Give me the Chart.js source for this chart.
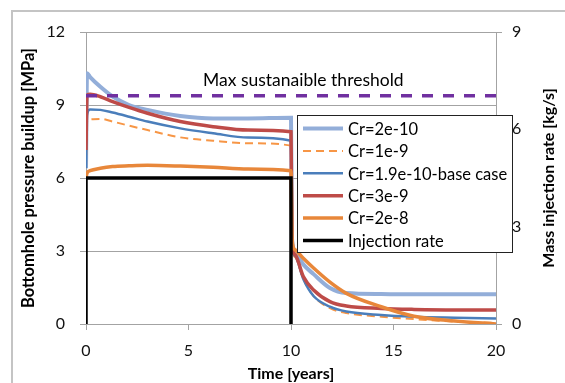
<!DOCTYPE html>
<html>
<head>
<meta charset="utf-8">
<script src="https://cdn.jsdelivr.net/npm/chart.js@4.4.1/dist/chart.umd.min.js"></script>
<style>
  html, body { margin: 0; padding: 0; background: #fff; }
  #wrap { width: 565px; height: 383px; }
</style>
</head>
<body>
<div id="wrap"><canvas id="pressureChart" width="565" height="383"></canvas></div>
<script>
// time axis shared by the pressure curves [years]
const timeYears = [0, 0.05, 0.2, 0.7, 1.3, 2.1, 3, 4.6, 6.2, 7.9, 10, 10.05, 10.2, 10.6, 11.1, 11.9, 12.7, 14.4, 16, 18, 20];

// bottomhole pressure buildup [MPa]
const cr2e10 =     [6.4, 10.3, 10.15, 9.75, 9.35, 9.0, 8.8, 8.55, 8.45, 8.45, 8.48, 3.5, 2.95, 2.45, 2.05, 1.48, 1.27, 1.23, 1.22, 1.22, 1.22];
const cr1e9 =      [6.4, 8.3, 8.41, 8.43, 8.32, 8.15, 7.97, 7.67, 7.53, 7.43, 7.33, 3.3, 2.75, 1.85, 1.15, 0.65, 0.45, 0.3, 0.2, 0.1, 0.05];
const cr19e10 =    [6.4, 8.6, 8.82, 8.8, 8.69, 8.52, 8.32, 8.04, 7.84, 7.66, 7.53, 3.3, 2.8, 1.85, 1.15, 0.71, 0.51, 0.37, 0.3, 0.26, 0.23];
const cr3e9 =      [7.15, 9.4, 9.44, 9.34, 9.14, 8.9, 8.66, 8.32, 8.11, 7.97, 7.9, 3.4, 2.85, 1.95, 1.4, 0.92, 0.74, 0.64, 0.6, 0.58, 0.58];
const cr2e8 =      [6.0, 6.2, 6.3, 6.4, 6.47, 6.5, 6.52, 6.49, 6.44, 6.37, 6.3, 3.5, 3.05, 2.7, 2.3, 1.72, 1.26, 0.71, 0.32, 0.12, 0.0];

// injection rate [kg/s] (right axis)
const injectionTime = [0, 0, 10, 10];
const injectionRate = [0, 4.5, 4.5, 0];

// max sustainable pressure [MPa]
const thresholdTime = [0, 20];
const thresholdValue = [9.38, 9.38];

const seriesLabels = ['Cr=2e-10', 'Cr=1e-9', 'Cr=1.9e-10-base case', 'Cr=3e-9', 'Cr=2e-8', 'Injection rate'];

const yTicks = [0, 3, 6, 9, 12];
const y2Ticks = [0, 3, 6, 9];
const xTicks = [0, 5, 10, 15, 20];

function pts(xs, ys) {
  return xs.map((x, i) => ({ x: x, y: ys[i] }));
}

const FONT = 'Lato, "Noto Sans", sans-serif';
const GRID = '#a3a3a3';

function curve(label, values, color, width, dash, order) {
  return {
    label: label,
    data: pts(timeYears, values),
    borderColor: color,
    backgroundColor: color,
    borderWidth: width,
    borderDash: dash || [],
    pointRadius: 0,
    cubicInterpolationMode: 'monotone',
    yAxisID: 'y',
    order: order
  };
}

const extras = {
  id: 'extras',
  afterDraw(chart) {
    const c = chart.ctx;
    const xs = chart.scales.x, ys = chart.scales.y;
    c.save();

    // outer frame
    c.strokeStyle = '#c4c4c4';
    c.lineWidth = 2;
    c.strokeRect(12, 11, 620, 420);

    // threshold label
    c.fillStyle = '#000';
    c.font = '17.5px ' + FONT;
    c.textAlign = 'center';
    c.textBaseline = 'middle';
    c.fillText('Max sustanaible threshold', xs.getPixelForValue(10.6), ys.getPixelForValue(10.0));

    // right axis title
    c.save();
    c.translate(549, (chart.chartArea.top + chart.chartArea.bottom) / 2);
    c.rotate(-Math.PI / 2);
    c.font = 'bold 16px ' + FONT;
    c.fillText('Mass injection rate [kg/s]', 0, 0);
    c.restore();

    // legend
    const bx = 297.5, by = 115.5, bw = 215, bh = 137;
    c.fillStyle = '#fff';
    c.fillRect(bx, by, bw, bh);
    c.strokeStyle = '#222';
    c.lineWidth = 1;
    c.strokeRect(bx, by, bw, bh);
    c.textAlign = 'left';
    c.font = '16.5px ' + FONT;
    const legendSets = chart.data.datasets.filter(d => d.label);
    legendSets.forEach((d, i) => {
      const yy = 128.5 + i * 22.4;
      c.strokeStyle = d.borderColor;
      c.lineWidth = d.borderWidth;
      c.setLineDash(d.borderDash || []);
      c.beginPath();
      c.moveTo(303, yy);
      c.lineTo(343, yy);
      c.stroke();
      c.setLineDash([]);
      c.fillStyle = '#000';
      c.fillText(d.label, 348, yy + 1);
    });
    c.restore();
  }
};

const ctx = document.getElementById('pressureChart').getContext('2d');
const pressureChart = new Chart(ctx, {
  type: 'line',
  data: {
    datasets: [
      curve(seriesLabels[0], cr2e10, '#93aed9', 4, null, 8),
      curve(seriesLabels[1], cr1e9, '#f79646', 2, [8, 5], 7),
      curve(seriesLabels[2], cr19e10, '#4a7ebb', 2.5, null, 6),
      curve(seriesLabels[3], cr3e9, '#be4b48', 3.5, null, 5),
      curve(seriesLabels[4], cr2e8, '#e8873a', 3.5, null, 4),
      {
        label: seriesLabels[5],
        data: pts(injectionTime, injectionRate),
        borderColor: '#000',
        backgroundColor: '#000',
        borderWidth: 3.5,
        pointRadius: 0,
        tension: 0,
        yAxisID: 'y2',
        order: 3
      },
      {
        label: '',
        data: pts(thresholdTime, thresholdValue),
        borderColor: '#7030a0',
        backgroundColor: '#7030a0',
        borderWidth: 3.5,
        borderDash: [11, 10],
        pointRadius: 0,
        tension: 0,
        yAxisID: 'y',
        order: 2
      }
    ]
  },
  options: {
    responsive: false,
    animation: false,
    events: [],
    layout: { padding: { top: 32, left: 0, right: 0, bottom: 0 } },
    plugins: {
      legend: { display: false },
      tooltip: { enabled: false }
    },
    scales: {
      x: {
        type: 'linear',
        min: 0, max: 20,
        afterBuildTicks: s => { s.ticks = xTicks.map(v => ({ value: v })); },
        afterFit: s => { s.height = 59; },
        grid: { drawOnChartArea: false, color: GRID, tickLength: 6 },
        border: { color: GRID },
        ticks: { color: '#111', font: { family: FONT, size: 16 }, padding: 11, maxRotation: 0 },
        title: { display: true, text: 'Time [years]', color: '#000', font: { family: FONT, size: 16, weight: 'bold' }, padding: { top: 0, bottom: 0 } }
      },
      y: {
        position: 'left',
        min: 0, max: 12,
        afterBuildTicks: s => { s.ticks = yTicks.map(v => ({ value: v })); },
        afterFit: s => { s.width = 86; },
        grid: { color: GRID, tickLength: 6 },
        border: { color: GRID },
        ticks: { color: '#111', font: { family: FONT, size: 16 }, padding: 15 },
        title: { display: true, text: 'Bottomhole pressure buildup [MPa]', color: '#000', font: { family: FONT, size: 16.5, weight: 'bold' }, padding: { top: 19, bottom: 0 } }
      },
      y2: {
        position: 'right',
        min: 0, max: 9,
        afterBuildTicks: s => { s.ticks = y2Ticks.map(v => ({ value: v })); },
        afterFit: s => { s.width = 69; },
        grid: { drawOnChartArea: false, color: GRID, tickLength: 6 },
        border: { color: GRID },
        ticks: { color: '#111', font: { family: FONT, size: 16 }, padding: 10 }
      }
    }
  },
  plugins: [extras]
});
</script>
</body>
</html>
